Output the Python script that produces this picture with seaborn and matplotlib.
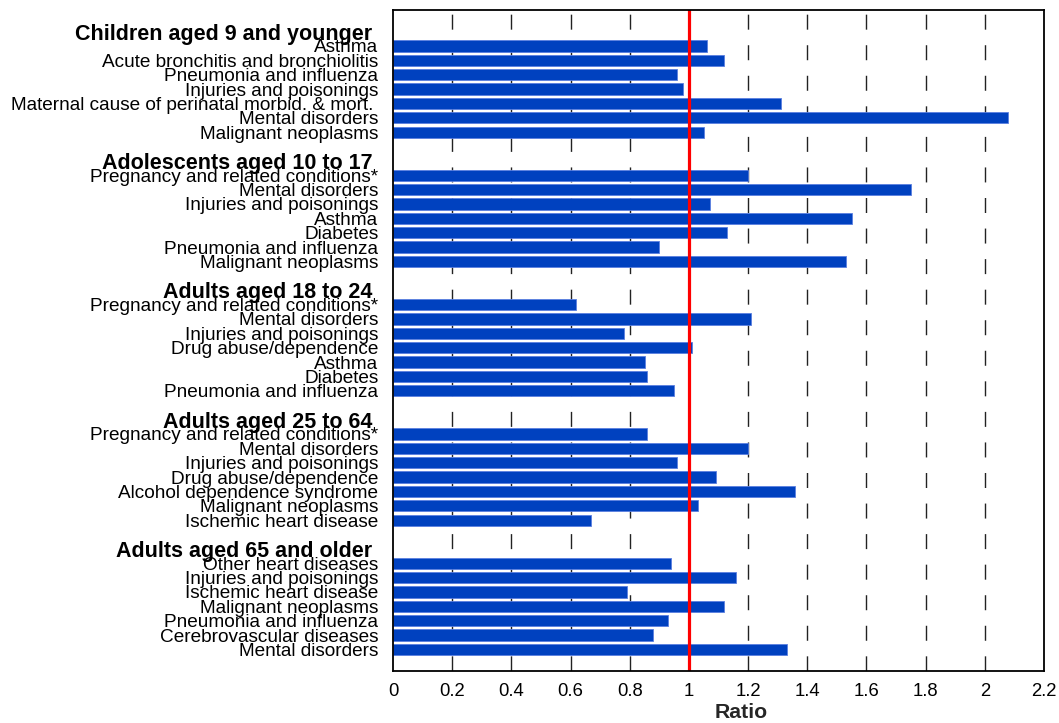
import pandas as pd
import seaborn as sns
import matplotlib.pyplot as plt

# Age groups and their leading causes (ratio values)
groups = [
    "Children aged 9 and younger",
    "Adolescents aged 10 to 17",
    "Adults aged 18 to 24",
    "Adults aged 25 to 64",
    "Adults aged 65 and older",
]

children_causes = ["Asthma", "Acute bronchitis and bronchiolitis", "Pneumonia and influenza",
                   "Injuries and poisonings", "Maternal cause of perinatal morbid. & mort. ",
                   "Mental disorders", "Malignant neoplasms"]
children_ratio = [1.06, 1.12, 0.96, 0.98, 1.31, 2.08, 1.05]

adolescent_causes = ["Pregnancy and related conditions*", "Mental disorders", "Injuries and poisonings",
                     "Asthma", "Diabetes", "Pneumonia and influenza", "Malignant neoplasms"]
adolescent_ratio = [1.20, 1.75, 1.07, 1.55, 1.13, 0.90, 1.53]

young_adult_causes = ["Pregnancy and related conditions*", "Mental disorders", "Injuries and poisonings",
                      "Drug abuse/dependence", "Asthma", "Diabetes", "Pneumonia and influenza"]
young_adult_ratio = [0.62, 1.21, 0.78, 1.01, 0.85, 0.86, 0.95]

adult_causes = ["Pregnancy and related conditions*", "Mental disorders", "Injuries and poisonings",
                "Drug abuse/dependence", "Alcohol dependence syndrome", "Malignant neoplasms",
                "Ischemic heart disease"]
adult_ratio = [0.86, 1.20, 0.96, 1.09, 1.36, 1.03, 0.67]

senior_causes = ["Other heart diseases", "Injuries and poisonings", "Ischemic heart disease",
                 "Malignant neoplasms", "Pneumonia and influenza", "Cerebrovascular diseases",
                 "Mental disorders"]
senior_ratio = [0.94, 1.16, 0.79, 1.12, 0.93, 0.88, 1.33]

xticks = [0, 0.2, 0.4, 0.6, 0.8, 1, 1.2, 1.4, 1.6, 1.8, 2, 2.2]

all_causes = [children_causes, adolescent_causes, young_adult_causes, adult_causes, senior_causes]
all_ratios = [children_ratio, adolescent_ratio, young_adult_ratio, adult_ratio, senior_ratio]

# Build rows: blank slot, group header, then the causes
rows = []
tick_pos, tick_lab, header_pos = [], [], []
pos = 0
for group, causes, ratios in zip(groups, all_causes, all_ratios):
    pos += 1  # blank slot
    tick_pos.append(pos)
    tick_lab.append(group + " ")
    header_pos.append(pos)
    pos += 1
    for cause, r in zip(causes, ratios):
        rows.append({"pos": pos, "ratio": r, "group": group, "cause": cause})
        tick_pos.append(pos)
        tick_lab.append(cause)
        pos += 1
n_slots = pos + 1
df = pd.DataFrame(rows)

sns.set_style("white")
plt.rcParams["font.family"] = ["Liberation Sans", "DejaVu Sans"]

fig = plt.figure(figsize=(10.59, 7.23), dpi=100)
ax = fig.add_axes([393 / 1059, 1 - 671 / 723, (1044 - 393) / 1059, (671 - 10) / 723])

# dashed grid lines, drawn top to bottom, behind the bars
for xv in xticks[1:-1]:
    ax.plot([xv, xv], [-0.5, n_slots - 0.5], color="#222222", lw=1.0,
            linestyle=(19, (10.8, 11.2)), zorder=1)

sns.barplot(data=df, x="ratio", y="pos", orient="h", native_scale=True,
            color="#0041BF", saturation=1, edgecolor="#5a7fe0", linewidth=0.6,
            width=0.78, errorbar=None, ax=ax, zorder=2)

ax.axvline(1, color="#FF0000", lw=2.3, zorder=3)

ax.set_xlim(0, 2.2)
ax.set_ylim(n_slots - 0.5, -0.5)
ax.set_xticks(xticks)
ax.set_xticklabels([f"{t:g}" for t in xticks], fontsize=13.3)
ax.set_yticks(tick_pos)
ax.set_yticklabels(tick_lab, fontsize=13.7)
for lab, p in zip(ax.get_yticklabels(), tick_pos):
    if p in header_pos:
        lab.set_fontweight("bold")
        lab.set_fontsize(15.5)

ax.tick_params(axis="both", length=0, colors="black")
ax.tick_params(axis="y", pad=10.5)
ax.tick_params(axis="x", pad=8.5)
ax.set_ylabel("")
ax.set_xlabel("Ratio", fontsize=15.3, fontweight="bold")
ax.xaxis.set_label_coords(0.535, -0.049)
for sp in ax.spines.values():
    sp.set_visible(True)
    sp.set_color("black")
    sp.set_linewidth(1.3)
    sp.set_zorder(4)

fig.savefig("out.png", dpi=100)
